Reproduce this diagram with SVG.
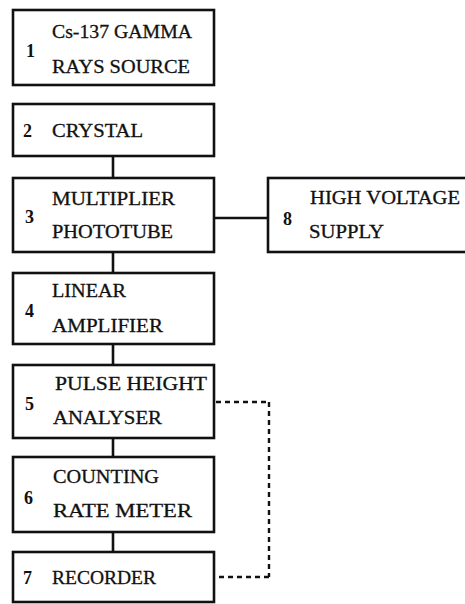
<svg xmlns="http://www.w3.org/2000/svg" width="465" height="604" viewBox="0 0 465 604">
<style>
.box{fill:#fff;stroke:#111;stroke-width:2.6}
.t{font-family:"Liberation Serif","Times New Roman",serif;font-size:19px;fill:#111;stroke:#111;stroke-width:0.3}
.n{font-family:"Liberation Serif","Times New Roman",serif;font-size:18px;font-weight:bold;fill:#111}
.c{stroke:#111;stroke-width:2.6;fill:none}
.d{stroke:#111;stroke-width:2.4;fill:none;stroke-dasharray:5 4}
</style>
<rect width="465" height="604" fill="#fff"/>
<g id="connectors">
<line class="c" x1="113" y1="156" x2="113" y2="178"/>
<line class="c" x1="113" y1="252" x2="113" y2="273"/>
<line class="c" x1="113" y1="344" x2="113" y2="365"/>
<line class="c" x1="113" y1="438" x2="113" y2="457"/>
<line class="c" x1="113" y1="532" x2="113" y2="552"/>
<line class="c" x1="214" y1="218" x2="268" y2="218"/>
<path class="d" d="M216,402 H269"/>
<path class="d" d="M269,402 V577" stroke-dasharray="3 4"/>
<path class="d" d="M269,577 H216"/>
</g>
<g id="node1">
<rect class="box" x="13" y="10" width="201" height="75"/>
<text class="n" x="26" y="57">1</text>
<text class="t" x="52" y="38" textLength="140" lengthAdjust="spacingAndGlyphs">Cs-137 GAMMA</text>
<text class="t" x="52" y="73" textLength="138" lengthAdjust="spacingAndGlyphs">RAYS SOURCE</text>
</g>
<g id="node2">
<rect class="box" x="13" y="104" width="201" height="52"/>
<text class="n" x="23" y="137">2</text>
<text class="t" x="52" y="137" textLength="91" lengthAdjust="spacingAndGlyphs">CRYSTAL</text>
</g>
<g id="node3">
<rect class="box" x="13" y="178" width="201" height="74"/>
<text class="n" x="25" y="223">3</text>
<text class="t" x="52" y="205" textLength="123" lengthAdjust="spacingAndGlyphs">MULTIPLIER</text>
<text class="t" x="52" y="238" textLength="121" lengthAdjust="spacingAndGlyphs">PHOTOTUBE</text>
</g>
<g id="node8">
<rect class="box" x="268" y="178" width="202" height="74"/>
<text class="n" x="283" y="225">8</text>
<text class="t" x="310" y="204" textLength="150" lengthAdjust="spacingAndGlyphs">HIGH VOLTAGE</text>
<text class="t" x="309" y="238" textLength="75" lengthAdjust="spacingAndGlyphs">SUPPLY</text>
</g>
<g id="node4">
<rect class="box" x="13" y="273" width="201" height="71"/>
<text class="n" x="25" y="317">4</text>
<text class="t" x="52" y="297" textLength="74" lengthAdjust="spacingAndGlyphs">LINEAR</text>
<text class="t" x="52" y="332" textLength="111" lengthAdjust="spacingAndGlyphs">AMPLIFIER</text>
</g>
<g id="node5">
<rect class="box" x="13" y="365" width="201" height="73"/>
<text class="n" x="25" y="410">5</text>
<text class="t" x="55" y="390" textLength="152" lengthAdjust="spacingAndGlyphs">PULSE HEIGHT</text>
<text class="t" x="53" y="424" textLength="109" lengthAdjust="spacingAndGlyphs">ANALYSER</text>
</g>
<g id="node6">
<rect class="box" x="13" y="457" width="201" height="75"/>
<text class="n" x="24" y="504">6</text>
<text class="t" x="53" y="483" textLength="106" lengthAdjust="spacingAndGlyphs">COUNTING</text>
<text class="t" x="53" y="517" textLength="139" lengthAdjust="spacingAndGlyphs">RATE METER</text>
</g>
<g id="node7">
<rect class="box" x="13" y="552" width="201" height="50"/>
<text class="n" x="23" y="584">7</text>
<text class="t" x="52" y="584" textLength="104" lengthAdjust="spacingAndGlyphs">RECORDER</text>
</g>
</svg>
